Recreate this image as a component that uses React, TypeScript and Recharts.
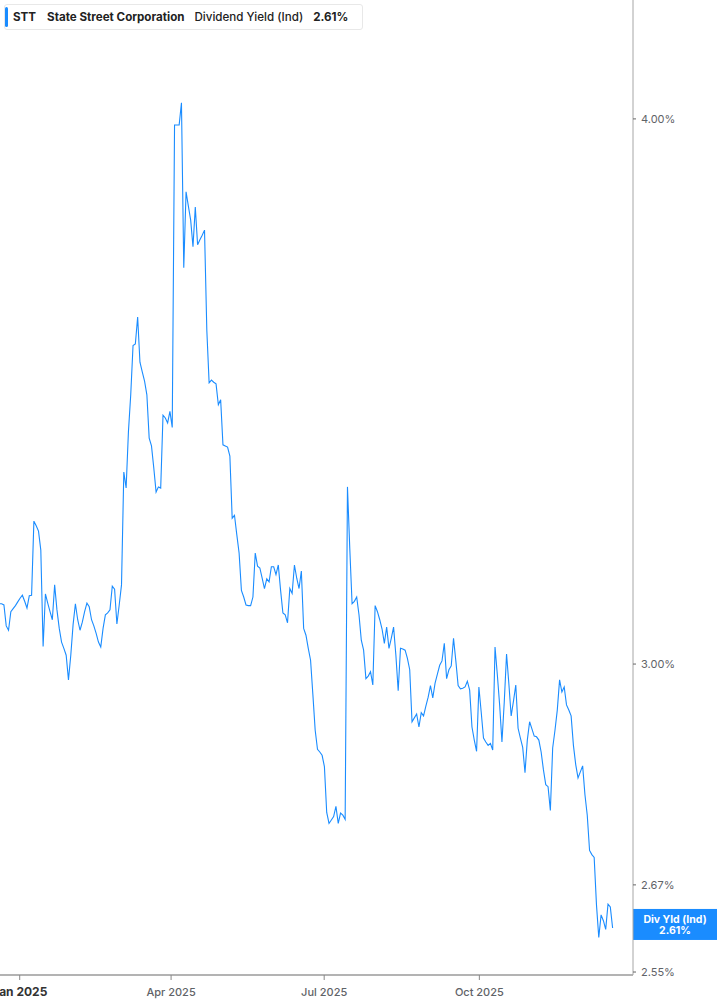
import React from 'react';
import { LineChart, Line, XAxis, YAxis, ReferenceLine } from 'recharts';

// daily dividend yield (%), trading days from mid Dec 2024 to mid Dec 2025
const yields: number[] = [
  3.097, 3.097, 3.095, 3.061, 3.054, 3.084, 3.089, 3.094, 3.1, 3.106,
  3.111, 3.101, 3.09, 3.11, 3.111, 3.235, 3.227, 3.218, 3.186, 3.028,
  3.113, 3.098, 3.084, 3.071, 3.128, 3.087, 3.057, 3.035, 3.025, 3.014,
  2.975, 3.014, 3.063, 3.097, 3.071, 3.054, 3.067, 3.084, 3.098, 3.092,
  3.071, 3.061, 3.049, 3.035, 3.027, 3.057, 3.079, 3.082, 3.087, 3.126,
  3.121, 3.064, 3.095, 3.128, 3.32, 3.292, 3.391, 3.458, 3.549, 3.552,
  3.603, 3.518, 3.5, 3.483, 3.458, 3.38, 3.366, 3.327, 3.285, 3.294,
  3.292, 3.421, 3.416, 3.407, 3.428, 3.399, 3.987, 3.987, 3.987, 4.034,
  3.698, 3.849, 3.82, 3.792, 3.739, 3.818, 3.743, 3.753, 3.762, 3.772,
  3.578, 3.48, 3.485, 3.481, 3.478, 3.44, 3.449, 3.368, 3.366, 3.364,
  3.348, 3.24, 3.245, 3.212, 3.181, 3.119, 3.108, 3.095, 3.094, 3.094,
  3.108, 3.181, 3.159, 3.156, 3.139, 3.122, 3.138, 3.133, 3.158, 3.158,
  3.145, 3.161, 3.119, 3.082, 3.079, 3.066, 3.122, 3.114, 3.161, 3.139,
  3.122, 3.151, 3.057, 3.046, 3.025, 3.006, 2.952, 2.897, 2.868, 2.864,
  2.859, 2.842, 2.774, 2.758, 2.763, 2.768, 2.783, 2.758, 2.773, 2.77,
  2.764, 3.294, 3.189, 3.097, 3.101, 3.108, 3.079, 3.038, 3.022, 2.977,
  2.981, 2.988, 2.967, 3.094, 3.084, 3.071, 3.056, 3.033, 3.059, 3.025,
  3.041, 3.059, 3.014, 2.958, 3.025, 3.024, 3.022, 3.009, 2.991, 2.91,
  2.916, 2.922, 2.902, 2.924, 2.919, 2.934, 2.948, 2.966, 2.947, 2.97,
  2.984, 2.998, 3.005, 3.033, 2.977, 2.991, 2.997, 3.041, 3.005, 2.966,
  2.961, 2.962, 2.964, 2.973, 2.959, 2.902, 2.882, 2.865, 2.964, 2.925,
  2.885, 2.879, 2.874, 2.877, 2.867, 3.027, 2.983, 2.936, 2.879, 2.94,
  3.016, 2.969, 2.919, 2.942, 2.967, 2.9, 2.885, 2.871, 2.833, 2.882,
  2.91, 2.899, 2.888, 2.887, 2.882, 2.864, 2.837, 2.815, 2.812, 2.777,
  2.87, 2.897, 2.928, 2.975, 2.956, 2.964, 2.936, 2.928, 2.919, 2.874,
  2.845, 2.825, 2.834, 2.843, 2.8, 2.77, 2.719, 2.713, 2.709, 2.642,
  2.597, 2.628, 2.62, 2.608, 2.643, 2.639, 2.61,
];

// quarter starts, as positions on the same point index
const xTickIdx = [8.85, 74.5, 140.9, 208.2];
const xTickLabels = ['Jan 2025', 'Apr 2025', 'Jul 2025', 'Oct 2025'];
const yTicks = [2.55, 2.67, 3.0, 4.0];
const lastYield = 2.61;

const data = yields.map((v, i) => ({ i, v }));

const FONT = 'Inter, "Noto Sans", sans-serif';
const BLUE = '#1a8cff';

function XTick({ x, y, payload }: any) {
  const k = xTickIdx.indexOf(payload.value);
  const isYear = k === 0;
  return (
    <text
      x={x}
      y={y + 14}
      textAnchor="middle"
      fontFamily={FONT}
      fontSize={isYear ? 12 : 11}
      fontWeight={isYear ? 700 : 500}
      fill={isYear ? '#333' : '#5f6368'}
    >
      {xTickLabels[k]}
    </text>
  );
}

function Badge({ viewBox }: any) {
  if (!viewBox) return null;
  const bx = viewBox.x + viewBox.width;
  const by = viewBox.y - 19;
  return (
    <g>
      <rect x={bx} y={by} width={84} height={31} fill={BLUE} />
      <text textAnchor="middle" fontFamily={FONT} fontSize={10.5} fontWeight={700} fill="#fff">
        <tspan x={bx + 42} y={by + 14}>Div Yld (Ind)</tspan>
        <tspan x={bx + 42} y={by + 25}>{lastYield.toFixed(2)}%</tspan>
      </text>
    </g>
  );
}

export default function App() {
  return (
    <div style={{ position: 'relative', width: 717, height: 1005, background: '#fff', fontFamily: FONT }}>
      <style>{'body{margin:0}'}</style>
      <LineChart width={717} height={1005} data={data} margin={{ top: 0, right: 0, bottom: 0, left: 0 }}>
        <XAxis
          dataKey="i"
          type="number"
          domain={[0.3, 274.84]}
          allowDataOverflow
          ticks={xTickIdx}
          tick={<XTick />}
          height={30}
          stroke="#b3b3b3"
          strokeWidth={2}
          tickSize={5}
          tickLine={{ stroke: '#888', strokeWidth: 1 }}
        />
        <YAxis
          orientation="right"
          scale="log"
          domain={[2.546, 4.259]}
          allowDataOverflow
          ticks={yTicks}
          width={84}
          stroke="#a6a6a6"
          tickSize={3}
          tickMargin={5}
          tickLine={{ stroke: '#666' }}
          tick={{ fontSize: 11, fill: '#5f6368', fontFamily: FONT }}
          tickFormatter={(v: number) => v.toFixed(2) + '%'}
        />
        <Line
          type="linear"
          dataKey="v"
          stroke={BLUE}
          strokeWidth={1.1}
          dot={false}
          activeDot={false}
          isAnimationActive={false}
        />
        <ReferenceLine y={lastYield} stroke="none" ifOverflow="visible" label={<Badge />} />
      </LineChart>
      <div
        style={{
          position: 'absolute',
          left: 4,
          top: 4,
          width: 359,
          height: 26,
          boxSizing: 'border-box',
          border: '1px solid #e8e8e8',
          borderRadius: 3,
          background: '#fff',
          display: 'flex',
          alignItems: 'center',
          fontSize: 11.6,
          color: '#222',
          whiteSpace: 'nowrap',
        }}
      >
        <div style={{ position: 'absolute', left: 0, top: 2, bottom: 2, width: 3, background: BLUE, borderRadius: 2 }} />
        <span style={{ marginLeft: 8, fontWeight: 700 }}>STT</span>
        <span style={{ marginLeft: 11, fontWeight: 700 }}>State Street Corporation</span>
        <span style={{ marginLeft: 10, fontWeight: 500 }}>Dividend Yield (Ind)</span>
        <span style={{ marginLeft: 10, fontWeight: 700 }}>2.61%</span>
      </div>
    </div>
  );
}
